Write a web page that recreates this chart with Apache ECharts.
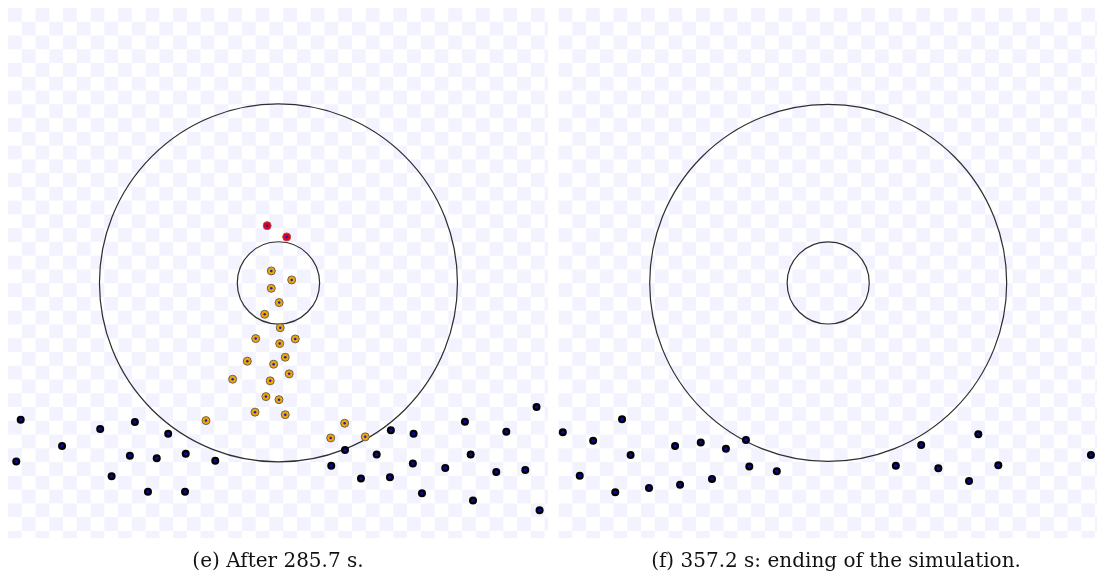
<!DOCTYPE html>
<html>
<head>
<meta charset="utf-8">
<script src="https://cdn.jsdelivr.net/npm/echarts@6/dist/echarts.min.js"></script>
<style>
html,body{margin:0;padding:0;background:#fff;}
#chart{width:1097px;height:571px;}
</style>
</head>
<body>
<div id="chart"></div>
<script>
// Units: outer circle radius = 10
const captions = ['(e) After 285.7 s.', '(f) 357.2 s: ending of the simulation.'];
const circles = [[0, 0, 10], [0, 0, 2.3]];

// Panel (e): particles inside the ring (orange), leaving particles (red), outside particles (black)
const orangeE = [
  [-0.40, 0.67], [0.74, 0.17], [-0.40, -0.30], [0.04, -1.10], [-0.77, -1.75],
  [0.10, -2.50], [-1.27, -3.11], [0.07, -3.39], [0.94, -3.13], [0.38, -4.15],
  [-1.74, -4.37], [-0.27, -4.54], [0.60, -5.08], [-2.56, -5.38], [-0.46, -5.47],
  [-0.70, -6.35], [0.03, -6.52], [-1.31, -7.22], [0.38, -7.36], [-4.05, -7.69],
  [3.70, -7.84], [2.92, -8.66], [4.85, -8.60]
];
const redE = [[-0.63, 3.20], [0.46, 2.57]];
const blackE = [
  [-14.40, -7.65], [-14.65, -9.98], [-12.09, -9.11], [-9.96, -8.16], [-8.02, -7.77],
  [-6.16, -8.42], [-9.32, -10.80], [-8.30, -9.65], [-6.80, -9.79], [-5.18, -9.55],
  [-7.29, -11.66], [-5.22, -11.66], [-3.53, -9.94], [3.72, -9.33], [2.95, -10.21],
  [4.61, -10.93], [5.49, -9.59], [6.28, -8.23], [7.55, -8.42], [10.42, -7.75],
  [12.73, -8.31], [14.42, -6.93], [10.74, -9.59], [7.51, -10.09], [9.32, -10.34],
  [12.17, -10.56], [13.79, -10.45], [6.23, -10.85], [8.02, -11.75], [10.87, -12.16],
  [14.59, -12.70]
];
// Panel (f)
const blackF = [
  [-14.87, -8.34], [-11.55, -7.61], [-13.17, -8.81], [-11.07, -9.61], [-13.92, -10.77],
  [-11.93, -11.69], [-10.04, -11.45], [-8.30, -11.27], [-6.51, -10.95], [-8.58, -9.11],
  [-7.14, -8.92], [-5.73, -9.27], [-4.61, -8.77], [-4.42, -10.26], [-2.88, -10.52],
  [3.79, -10.21], [5.21, -9.05], [8.41, -8.45], [6.17, -10.35], [9.53, -10.18],
  [7.89, -11.06], [14.72, -9.61]
];

const chart = echarts.init(document.getElementById('chart'), null, {renderer: 'canvas'});

// checkerboard backdrop (decoration)
const SQ = 13.76, LIGHT = '#f2f3fe';
function checker(x0, y0, w, h) {
  const els = [];
  const nx = Math.ceil(w / SQ), ny = Math.ceil(h / SQ);
  for (let j = 0; j < ny; j++) {
    for (let i = 0; i < nx; i++) {
      if ((i + j) % 2 === 0) {
        const x = x0 + i * SQ, y = y0 + j * SQ;
        els.push({type: 'rect', shape: {x: x, y: y, width: Math.min(SQ, x0 + w - x), height: Math.min(SQ, y0 + h - y)},
          style: {fill: LIGHT}, silent: true});
      }
    }
  }
  return els;
}
const bg = [].concat(checker(8, 8, 540, 530), checker(558.5, 8, 538.5, 530));

const panels = [{left: 8}, {left: 558.5}];
const XR = [-15.11, 15.06], YR = [-14.25, 15.36];

function circleSeries(idx) {
  return {
    type: 'custom', xAxisIndex: idx, yAxisIndex: idx, silent: true, z: 2,
    data: circles,
    renderItem: function (params, api) {
      const c = api.coord([api.value(0), api.value(1)]);
      const s = api.size([api.value(2), api.value(2)]);
      return {type: 'circle', shape: {cx: c[0], cy: c[1], r: s[0]},
        style: {fill: 'none', stroke: '#2e2e2e', lineWidth: 1.2}};
    }
  };
}
function dots(idx, data, fill, border, size, z) {
  return {type: 'scatter', xAxisIndex: idx, yAxisIndex: idx, data: data, symbol: 'circle',
    symbolSize: size, z: z, silent: true,
    itemStyle: {color: fill, borderColor: border, borderWidth: border ? 1 : 0, opacity: 1}};
}

const capStyle = {fontFamily: 'DejaVu Serif', fontWeight: 'normal', fontSize: 20, color: '#111'};
const option = {
  backgroundColor: '#ffffff',
  animation: false,
  graphic: {elements: bg},
  title: [
    {text: captions[0], left: 273, top: 547, textAlign: 'center', textStyle: capStyle},
    {text: captions[1], left: 831, top: 547, textAlign: 'center', textStyle: capStyle}
  ],
  grid: panels.map(p => ({left: p.left, top: 8, width: 540, height: 530, show: false})),
  xAxis: [0, 1].map(i => ({type: 'value', gridIndex: i, min: XR[0], max: XR[1], show: false})),
  yAxis: [0, 1].map(i => ({type: 'value', gridIndex: i, min: YR[0], max: YR[1], show: false})),
  series: [
    circleSeries(0), circleSeries(1),
    dots(0, blackE, '#000000', null, 8, 3), dots(0, blackE, '#0a0aa0', null, 3.5, 4),
    dots(0, orangeE, '#f0a500', '#6e6450', 8, 3), dots(0, orangeE, '#1a1ad0', null, 2.5, 4),
    dots(0, redE, '#e0001c', '#b05050', 8, 3), dots(0, redE, '#1a1ad0', null, 2.5, 4),
    dots(1, blackF, '#000000', null, 8, 3), dots(1, blackF, '#0a0aa0', null, 3.5, 4)
  ]
};
chart.setOption(option);
</script>
</body>
</html>
